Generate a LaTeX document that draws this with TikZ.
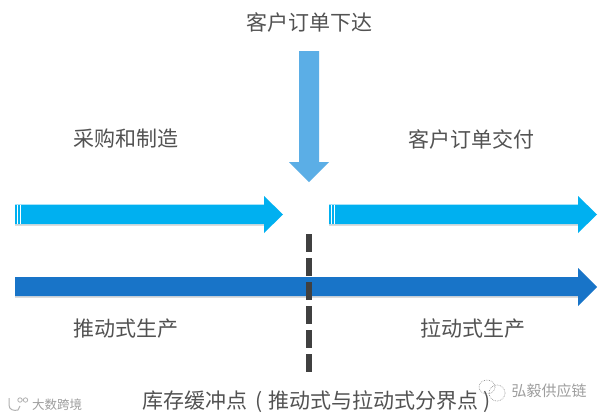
\documentclass[tikz,border=0pt]{standalone}
\usepackage{fontspec}
\setmainfont{Noto Sans CJK SC}
\definecolor{arrowA}{HTML}{00B0F0}
\definecolor{arrowB}{HTML}{1874C8}
\definecolor{arrowC}{HTML}{5BAEE6}
\definecolor{dashcol}{HTML}{404040}
\begin{document}
\begin{tikzpicture}[x=1pt,y=-1pt,
  lbl/.style={text=black!68,font=\fontsize{21}{24}\selectfont,inner sep=0pt,anchor=center},
  wmark/.style={text=black!38,inner sep=0pt,anchor=center},
  stripe/.style={draw=white,line width=0.7pt},
  shade/.style={fill=black!30,opacity=.45},
  icon/.style={draw=black!40,line width=0.7pt,densely dotted}]
\useasboundingbox (0,0) rectangle (605,418);
\fill[white] (0,0) rectangle (605,418);
% soft shadows
\fill[shade] (15,224) rectangle (264,225.5);
\fill[shade] (329,224) rectangle (578,225.5);
\fill[shade] (15,296) rectangle (578,297.5);
% upper left arrow
\fill[arrowA] (15,204.5) -- (264,204.5) -- (264,196) -- (283,214.5) -- (264,233) -- (264,224) -- (15,224) -- cycle;
\draw[stripe] (17,204.5) -- (17,224);
\draw[stripe] (20,204.5) -- (20,224);
% upper right arrow
\fill[arrowA] (329,204.5) -- (578,204.5) -- (578,196) -- (597,214.5) -- (578,233) -- (578,224) -- (329,224) -- cycle;
\draw[stripe] (331,204.5) -- (331,224);
\draw[stripe] (334,204.5) -- (334,224);
% long arrow
\fill[arrowB] (15,277) -- (578,277) -- (578,268) -- (597,287) -- (578,306) -- (578,296) -- (15,296) -- cycle;
% down arrow
\fill[arrowC] (299,51) -- (319,51) -- (319,162) -- (329,162) -- (309,182) -- (289,162) -- (299,162) -- cycle;
% dashed boundary
\coordinate (dashtop) at (309,234);
\coordinate (dashbot) at (309,372);
\draw[dashcol,line width=6pt,dash pattern=on 18pt off 6pt] (dashtop) -- (dashbot);
% labels
\node[lbl] (order) at (309,22) {客户订单下达};
\node[lbl] (buy) at (125.5,139) {采购和制造};
\node[lbl] (deliver) at (471,139) {客户订单交付};
\node[lbl] (push) at (125.5,329) {推动式生产};
\node[lbl] (pull) at (473,329) {拉动式生产};
\node[lbl,anchor=west] (point) at (142,402) {库存缓冲点\hspace{8pt}(\hspace{6pt}推动式与拉动式分界点\hspace{5pt})};
% watermarks
\node[wmark,font=\fontsize{15}{17}\selectfont] (hy) at (549,391) {弘毅供应链};
\node[wmark,font=\fontsize{12.5}{14}\selectfont] (ds) at (57,405) {大数跨境};
\draw[icon] (497,393) circle (8);
\draw[icon] (487,387) ellipse (8 and 7);
\draw[black!30,line width=1pt] (9,398) -- (9,405) .. controls (9,410) and (14,411) .. (18,410) -- (20,406);
\draw[black!30,line width=.8pt] (20,400) circle (2.2) (25.5,400) circle (2.2);
\end{tikzpicture}
\end{document}
